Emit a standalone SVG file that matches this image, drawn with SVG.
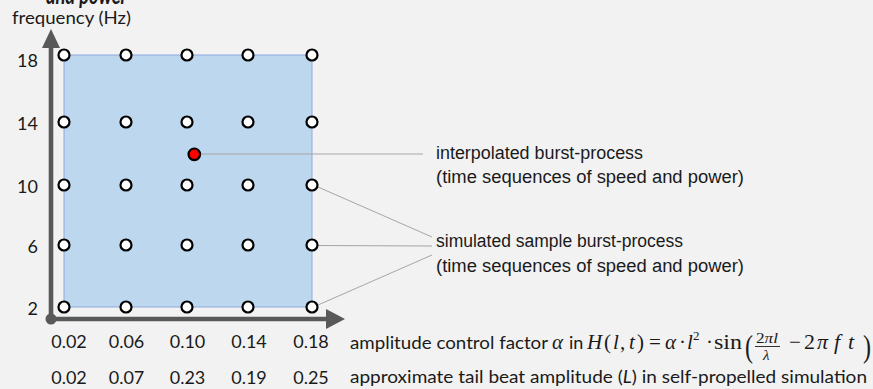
<svg xmlns="http://www.w3.org/2000/svg" width="873" height="389" viewBox="0 0 873 389">
<defs>
<style>
.cal{font-family:Lato,"Open Sans","Noto Sans",sans-serif;fill:#1a1a1a}
.ari{font-family:"Liberation Sans",Arial,sans-serif;fill:#1a1a1a;font-size:18px}
.math{font-family:"Liberation Serif","Times New Roman",serif;fill:#1a1a1a}
.it{font-style:italic}
.pt{fill:#ffffff;stroke:#000000;stroke-width:2.2}
.lead{stroke:#a6a6a6;stroke-width:1;fill:none}
.axis{stroke:#595959;stroke-width:4.6;fill:none}
</style>
</defs>
<rect x="0" y="0" width="873" height="389" fill="#f2f2f2"/>
<text class="cal it" x="46" y="4" font-size="24" font-weight="bold" textLength="81" lengthAdjust="spacingAndGlyphs">and power</text>

<g id="region">
<rect x="64" y="55" width="248" height="252" fill="#bdd7ee" stroke="#8faadc" stroke-width="1"/>
</g>

<g id="axes">
<line class="axis" x1="51" y1="319" x2="51" y2="46"/>
<polygon points="42,48 60,48 51,29" fill="#595959"/>
<line class="axis" x1="51" y1="319" x2="328" y2="319"/>
<polygon points="326,309 326,329 345,319" fill="#595959"/>
<circle cx="51" cy="319" r="5.5" fill="#595959"/>
<text class="cal" x="12" y="24" font-size="17" textLength="119" lengthAdjust="spacingAndGlyphs">frequency (Hz)</text>
</g>

<g id="y-ticks" class="cal" font-size="18" text-anchor="end">
<text x="38" y="66.5">18</text>
<text x="38" y="129.5">14</text>
<text x="38" y="192.5">10</text>
<text x="38" y="252.5">6</text>
<text x="38" y="315">2</text>
</g>

<g id="x-ticks" class="cal" font-size="18" text-anchor="middle">
<text x="69" y="348">0.02</text>
<text x="126.5" y="348">0.06</text>
<text x="187.5" y="348">0.10</text>
<text x="249" y="348">0.14</text>
<text x="311" y="348">0.18</text>
<text x="69" y="384">0.02</text>
<text x="126.5" y="384">0.07</text>
<text x="187.5" y="384">0.23</text>
<text x="249" y="384">0.19</text>
<text x="311" y="384">0.25</text>
</g>

<g id="connectors">
<line class="lead" x1="194" y1="154" x2="423" y2="154"/>
<line class="lead" x1="318" y1="187" x2="432" y2="237"/>
<line class="lead" x1="318" y1="245.5" x2="432" y2="246"/>
<line class="lead" x1="318" y1="305" x2="432" y2="255"/>
</g>

<g id="samples">
<circle class="pt" cx="64" cy="55" r="5.5"/>
<circle class="pt" cx="126" cy="55" r="5.5"/>
<circle class="pt" cx="187" cy="55" r="5.5"/>
<circle class="pt" cx="248" cy="55" r="5.5"/>
<circle class="pt" cx="312" cy="55" r="5.5"/>
<circle class="pt" cx="64" cy="122" r="5.5"/>
<circle class="pt" cx="126" cy="122" r="5.5"/>
<circle class="pt" cx="187" cy="122" r="5.5"/>
<circle class="pt" cx="248" cy="122" r="5.5"/>
<circle class="pt" cx="312" cy="122" r="5.5"/>
<circle class="pt" cx="64" cy="185" r="5.5"/>
<circle class="pt" cx="126" cy="185" r="5.5"/>
<circle class="pt" cx="187" cy="185" r="5.5"/>
<circle class="pt" cx="248" cy="185" r="5.5"/>
<circle class="pt" cx="312" cy="185" r="5.5"/>
<circle class="pt" cx="64" cy="245" r="5.5"/>
<circle class="pt" cx="126" cy="245" r="5.5"/>
<circle class="pt" cx="187" cy="245" r="5.5"/>
<circle class="pt" cx="248" cy="245" r="5.5"/>
<circle class="pt" cx="312" cy="245" r="5.5"/>
<circle class="pt" cx="64" cy="307" r="5.5"/>
<circle class="pt" cx="126" cy="307" r="5.5"/>
<circle class="pt" cx="187" cy="307" r="5.5"/>
<circle class="pt" cx="248" cy="307" r="5.5"/>
<circle class="pt" cx="312" cy="307" r="5.5"/>
</g>

<g id="interpolated">
<circle cx="194.3" cy="154.3" r="5.8" fill="#ff0000" stroke="#000000" stroke-width="2.2"/>
</g>

<g id="label-interpolated" class="ari">
<text x="436" y="159" textLength="207" lengthAdjust="spacingAndGlyphs">interpolated burst-process</text>
<text x="436" y="183" textLength="308" lengthAdjust="spacingAndGlyphs">(time sequences of speed and power)</text>
</g>

<g id="label-simulated" class="ari">
<text x="436" y="247" textLength="247" lengthAdjust="spacingAndGlyphs">simulated sample burst-process</text>
<text x="436" y="272" textLength="308" lengthAdjust="spacingAndGlyphs">(time sequences of speed and power)</text>
</g>

<g id="label-amplitude" font-size="21">
<text class="cal" x="350" y="349" font-size="18" textLength="198" lengthAdjust="spacingAndGlyphs">amplitude control factor</text>
<text class="math it" x="552" y="349">α</text>
<text class="cal" x="569" y="349" font-size="18">in</text>
<text class="math it" x="587" y="349">H</text>
<text class="math" x="604" y="349">(</text>
<text class="math it" x="613" y="349">l</text>
<text class="math" x="620" y="349">,</text>
<text class="math it" x="629" y="349">t</text>
<text class="math" x="637" y="349">)</text>
<text class="math" x="649" y="349">=</text>
<text class="math it" x="665" y="349">α</text>
<text class="math" x="679" y="349">·</text>
<text class="math it" x="687" y="349">l</text>
<text class="math" x="693" y="340" font-size="13">2</text>
<text class="math" x="706" y="349">·</text>
<text class="math" x="714" y="349" textLength="28" lengthAdjust="spacingAndGlyphs">sin</text>
<text class="math" x="745" y="357" font-size="32" transform="translate(745 357) scale(0.75 1) translate(-745 -357)">(</text>
<text class="math" x="756" y="343" font-size="15" textLength="22" lengthAdjust="spacingAndGlyphs">2<tspan class="it">πl</tspan></text>
<line x1="755" y1="346.5" x2="780" y2="346.5" stroke="#1a1a1a" stroke-width="0.9"/>
<text class="math it" x="763" y="360" font-size="15">λ</text>
<text class="math" x="789" y="349">−</text>
<text class="math" x="804" y="349" font-size="22">2<tspan class="it" x="817">π</tspan><tspan class="it" x="834">f</tspan><tspan class="it" x="848">t</tspan></text>
<text class="math" x="863" y="357" font-size="32" transform="translate(863 357) scale(0.75 1) translate(-863 -357)">)</text>
</g>

<g id="label-tail">
<text class="cal" x="350" y="383" font-size="18" textLength="517" lengthAdjust="spacingAndGlyphs">approximate tail beat amplitude (<tspan class="it">L</tspan>) in self-propelled simulation</text>
</g>
</svg>
